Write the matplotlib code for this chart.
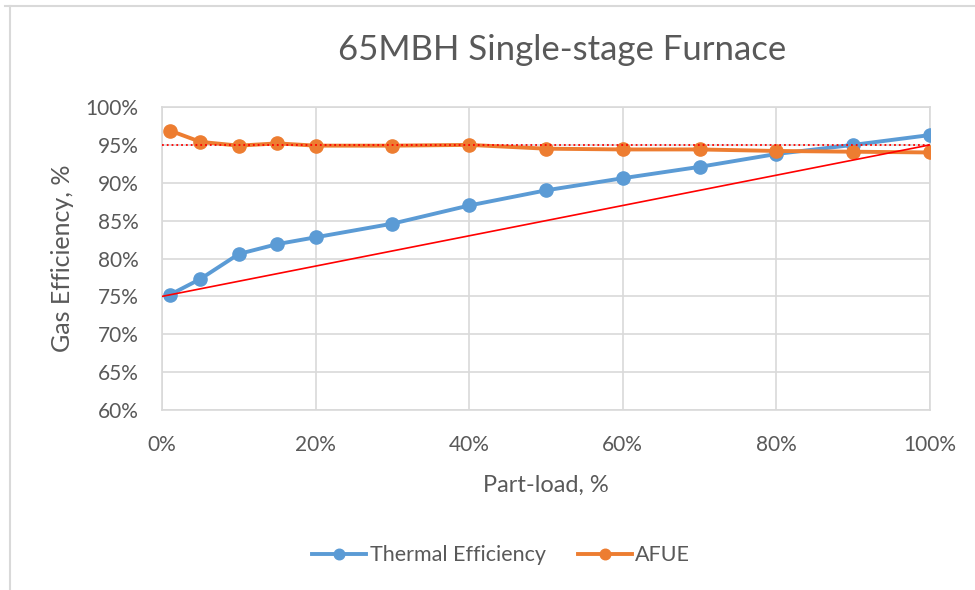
import matplotlib
matplotlib.use('Agg')
import matplotlib.pyplot as plt
from matplotlib.ticker import PercentFormatter, MultipleLocator
from matplotlib.lines import Line2D

# ── Datos ────────────────────────────────────────────────────────────────────
part_load = [0.01, 0.05, 0.10, 0.15, 0.20, 0.30, 0.40, 0.50, 0.60, 0.70, 0.80, 0.90, 1.00]
thermal_eff = [0.752, 0.773, 0.806, 0.819, 0.828, 0.846, 0.870, 0.890, 0.906, 0.921, 0.938, 0.950, 0.963]
afue = [0.969, 0.954, 0.949, 0.952, 0.949, 0.949, 0.950, 0.945, 0.944, 0.944, 0.942, 0.941, 0.940]

ref_flat_x = [0.0, 1.0]
ref_flat_y = [0.95, 0.95]
ref_slope_x = [0.0, 1.0]
ref_slope_y = [0.75, 0.95]

BLUE = '#5B9BD5'
ORANGE = '#ED7D31'
GRID = '#D9D9D9'
TXT = '#595959'

plt.rcParams['font.family'] = ['Lato', 'DejaVu Sans']

fig = plt.figure(figsize=(9.75, 5.9), dpi=100)
ax = fig.add_axes([0.1662, 0.3051, 0.7876, 0.5135])

ax.plot(part_load, thermal_eff, '-o', color=BLUE, lw=2.8, ms=9.5, label='Thermal Efficiency', zorder=3)
ax.plot(part_load, afue, '-o', color=ORANGE, lw=2.8, ms=9.5, label='AFUE', zorder=3)

# líneas de referencia en rojo
ax.plot(ref_flat_x, ref_flat_y, ':', color='red', lw=1.3, zorder=4)
ax.plot(ref_slope_x, ref_slope_y, '-', color='red', lw=1.2, zorder=4)

ax.set_xlim(0, 1)
ax.set_ylim(0.60, 1.00)
ax.xaxis.set_major_locator(MultipleLocator(0.2))
ax.yaxis.set_major_locator(MultipleLocator(0.05))
ax.xaxis.set_major_formatter(PercentFormatter(1.0, decimals=0))
ax.yaxis.set_major_formatter(PercentFormatter(1.0, decimals=0))
ax.grid(True, color=GRID, lw=1.2)
ax.set_axisbelow(True)
for spine in ax.spines.values():
    spine.set_color(GRID)
    spine.set_linewidth(1.2)
ax.tick_params(length=0, labelsize=15, colors=TXT)
ax.tick_params(axis='y', pad=17)
ax.tick_params(axis='x', pad=18)

ax.set_xlabel('Part-load, %', fontsize=17, color=TXT, labelpad=14)
ax.set_ylabel('Gas Efficiency, %', fontsize=18, color=TXT, labelpad=8)

fig.text(0.577, 0.915, '65MBH Single-stage Furnace', fontsize=25, color=TXT,
         ha='center', va='center')

fig.legend(loc='center', bbox_to_anchor=(0.514, 0.059), ncol=2, frameon=False,
           fontsize=15.5, handlelength=2.5, handletextpad=0.15, columnspacing=1.5,
           labelcolor=TXT, markerscale=0.8)

# marco del gráfico (solo arriba e izquierda visibles)
fig.add_artist(Line2D([0.005, 1.0], [0.99, 0.99], transform=fig.transFigure, color=GRID, lw=1.5))
fig.add_artist(Line2D([0.0105, 0.0105], [0.0, 0.99], transform=fig.transFigure, color=GRID, lw=1.5))

plt.savefig('out.png', dpi=100, facecolor='white')
